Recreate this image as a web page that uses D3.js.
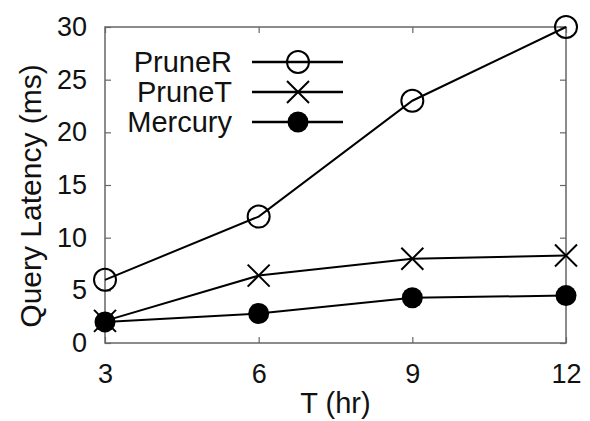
<!DOCTYPE html>
<html>
<head>
<meta charset="utf-8">
<script src="https://cdn.jsdelivr.net/npm/d3@7"></script>
<style>
  body { margin: 0; background: #fff; }
  text { font-family: "Liberation Sans", Arial, sans-serif; fill: #111; }
</style>
</head>
<body>
<div id="chart"></div>
<script>
// données
const hours = [3, 6, 9, 12];
const pruneR = [6, 12, 23, 30];
const pruneT = [2.1, 6.4, 8.0, 8.3];
const mercury = [2.0, 2.8, 4.3, 4.5];
const yTicks = [0, 5, 10, 15, 20, 25, 30];
const seriesNames = ["PruneR", "PruneT", "Mercury"];
const markers = ["open", "cross", "filled"];

const W = 590, H = 421;
const margin = { top: 27, right: 24, bottom: 78, left: 105 };
const width = W - margin.left - margin.right;
const height = H - margin.top - margin.bottom;

const svg = d3.select("#chart")
  .append("svg")
  .attr("width", W)
  .attr("height", H);

const g = svg.append("g")
  .attr("transform", `translate(${margin.left},${margin.top})`);

const x = d3.scaleLinear().domain([3, 12]).range([0, width]);
const y = d3.scaleLinear().domain([0, 30]).range([height, 0]);

// cadre
g.append("rect")
  .attr("width", width)
  .attr("height", height)
  .attr("fill", "none")
  .attr("stroke", "#666")
  .attr("stroke-width", 1.5);

// axes (ticks vers l'intérieur)
const xAxis = g.append("g")
  .attr("transform", `translate(0,${height})`)
  .call(d3.axisBottom(x).tickValues(hours).tickSize(-6).tickPadding(21).tickFormat(d3.format("d")));
const xAxisTop = g.append("g")
  .call(d3.axisTop(x).tickValues(hours).tickSize(-6).tickFormat(""));
const yAxis = g.append("g")
  .call(d3.axisLeft(y).tickValues(yTicks).tickSize(-6).tickPadding(18));
const yAxisRight = g.append("g")
  .attr("transform", `translate(${width},0)`)
  .call(d3.axisRight(y).tickValues(yTicks).tickSize(-6).tickFormat(""));

[xAxis, xAxisTop, yAxis, yAxisRight].forEach(a => {
  a.select(".domain").remove();
  a.selectAll(".tick line").attr("stroke", "#666").attr("stroke-width", 1.2);
  a.selectAll("text").style("font-size", "27px").attr("fill", "#111");
});

// titres des axes
svg.append("text")
  .attr("x", margin.left + width / 2)
  .attr("y", 413)
  .attr("text-anchor", "middle")
  .style("font-size", "29px")
  .text("T (hr)");

svg.append("text")
  .attr("transform", "translate(41,196) rotate(-90)")
  .attr("text-anchor", "middle")
  .style("font-size", "30px")
  .text("Query Latency (ms)");

// dessin des marqueurs
function drawMarker(sel, type, cx, cy) {
  if (type === "open") {
    sel.append("circle").attr("cx", cx).attr("cy", cy).attr("r", 11)
      .attr("fill", "none").attr("stroke", "#000").attr("stroke-width", 2);
  } else if (type === "filled") {
    sel.append("circle").attr("cx", cx).attr("cy", cy).attr("r", 10.5)
      .attr("fill", "#000");
  } else {
    const s = 11;
    sel.append("path")
      .attr("d", `M${cx - s},${cy - s}L${cx + s},${cy + s}M${cx - s},${cy + s}L${cx + s},${cy - s}`)
      .attr("stroke", "#000").attr("stroke-width", 2).attr("fill", "none");
  }
}

const allSeries = [pruneR, pruneT, mercury];
const line = d3.line().x((d, i) => x(hours[i])).y(d => y(d));

allSeries.forEach((vals, k) => {
  const sg = g.append("g");
  sg.append("path")
    .datum(vals)
    .attr("d", line)
    .attr("fill", "none")
    .attr("stroke", "#000")
    .attr("stroke-width", 2);
  vals.forEach((v, i) => drawMarker(sg, markers[k], x(hours[i]), y(v)));
});

// légende
const legend = svg.append("g");
seriesNames.forEach((name, k) => {
  const ly = 62 + k * 30;
  legend.append("text")
    .attr("x", 232)
    .attr("y", ly)
    .attr("dy", "0.35em")
    .attr("text-anchor", "end")
    .style("font-size", "29px")
    .text(name);
  legend.append("line")
    .attr("x1", 252).attr("x2", 343)
    .attr("y1", ly).attr("y2", ly)
    .attr("stroke", "#000").attr("stroke-width", 2.5);
  drawMarker(legend, markers[k], 298, ly);
});
</script>
</body>
</html>
